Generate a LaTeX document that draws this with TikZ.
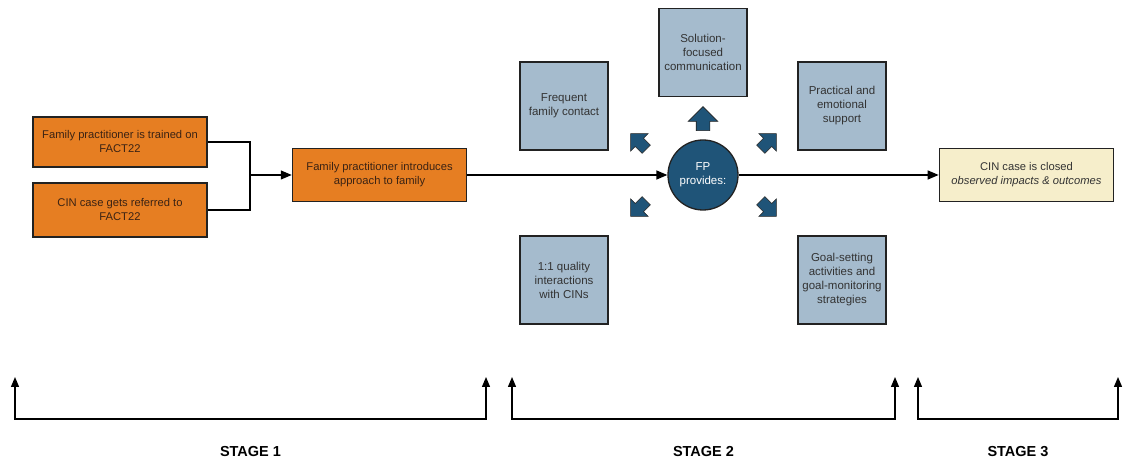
\documentclass[tikz,border=0pt]{standalone}
\usepackage{fontspec}
\setmainfont{Liberation Sans}
\usepackage{tikz}
\usetikzlibrary{positioning, shapes.geometric, shapes.arrows, graphs, arrows.meta}
\usepackage{xcolor}
\definecolor{fporange}{HTML}{E67E22}
\definecolor{fpbrown}{HTML}{3B2314}
\definecolor{fpsteel}{HTML}{A5BBCD}
\definecolor{fpnavy}{HTML}{1F5478}
\definecolor{fpcream}{HTML}{F6EECB}
\definecolor{fpline}{HTML}{222222}

\begin{document}
\begin{tikzpicture}[x=1pt, y=1pt, node distance=200pt,
    >={Triangle[length=11pt,width=9pt]},
    wire/.style={line width=1.3pt, draw=black},
    orangebox/.style={draw=fpline, line width=1.6pt, fill=fporange, text=fpbrown, minimum width=174pt, align=center, font=\fontsize{11.2}{14}\selectfont},
    bluebox/.style={draw=fpline, line width=1.6pt, fill=fpsteel, text=black!80, minimum width=88pt, minimum height=88pt, align=center, font=\fontsize{11.5}{14}\selectfont},
    creambox/.style={draw=fpline, line width=1.6pt, fill=fpcream, text=black!80, minimum width=174pt, minimum height=53pt, align=center, font=\fontsize{11.2}{14}\selectfont},
    hub/.style={circle, draw=fpline, line width=1.3pt, fill=fpnavy, text=white, minimum size=70pt, inner sep=0pt, align=center, font=\fontsize{11.5}{14}\selectfont},
    push/.style={single arrow, fill=fpnavy, draw=fpline, line width=0.6pt, minimum height=24pt, inner xsep=0pt, inner ysep=6.5pt, single arrow head extend=8pt, single arrow head indent=0pt},
    smallpush/.style={push, minimum height=22pt, inner ysep=5.5pt, single arrow head extend=6.5pt},
    bracket/.style={{Triangle[length=10pt,width=8pt]}-{Triangle[length=10pt,width=8pt]}, line width=1.3pt},
    stagelabel/.style={font=\fontsize{14.5}{16}\selectfont\bfseries}]
    \useasboundingbox (0,0) rectangle (1130,462);

    \node[hub] (fp) at (703,287) {FP\\provides:};

    \node[orangebox, minimum height=53pt, left=of fp] (introduces) {Family practitioner introduces\\approach to family};
    \node[creambox, right=of fp] (closed) {CIN case is closed\\\textit{observed impacts \& outcomes}};

    \node[orangebox, minimum height=50pt] (trained) at (120,320) {Family practitioner is trained on\\FACT22};
    \node[orangebox, minimum height=54pt] (referred) at (120,252) {CIN case gets referred to\\FACT22};
    \coordinate (join) at (250,287);

    \node[bluebox, above=42pt of fp] (solution) {Solution-\\focused\\communication};
    \node[bluebox] (contact) at (564,356) {Frequent\\family contact};
    \node[bluebox] (support) at (842,356) {Practical and\\emotional\\support};
    \node[bluebox] (interactions) at (564,182) {1:1 quality\\interactions\\with CINs};
    \node[bluebox] (goals) at (842,182) {Goal-setting\\activities and\\goal-monitoring\\strategies};

    \node[push, rotate=90] (push-n) at (703,340) {};
    \node[smallpush, rotate=135] (push-nw) at (640.5,318.5) {};
    \node[smallpush, rotate=45] (push-ne) at (766.5,318.5) {};
    \node[smallpush, rotate=225] (push-sw) at (640.5,255.5) {};
    \node[smallpush, rotate=-45] (push-se) at (766.5,255.5) {};

    \draw[wire] (trained.east) -| (join) |- (referred.east);
    \graph[edges={wire}]{
    (join) -> (introduces) -> (fp) -> (closed);
    };

    \coordinate (s1l) at (15,85);
    \coordinate (s1r) at (486,85);
    \coordinate (s2l) at (512,85);
    \coordinate (s2r) at (895,85);
    \coordinate (s3l) at (918,85);
    \coordinate (s3r) at (1118,85);
    \draw[bracket] (s1l) -- ++(0,-42) -| (s1r);
    \draw[bracket] (s2l) -- ++(0,-42) -| (s2r);
    \draw[bracket] (s3l) -- ++(0,-42) -| (s3r);

    \node[stagelabel] (stage1) at (250.5,10) {STAGE 1};
    \node[stagelabel] (stage2) at (703.5,10) {STAGE 2};
    \node[stagelabel] (stage3) at (1018,10) {STAGE 3};
\end{tikzpicture}
\end{document}
